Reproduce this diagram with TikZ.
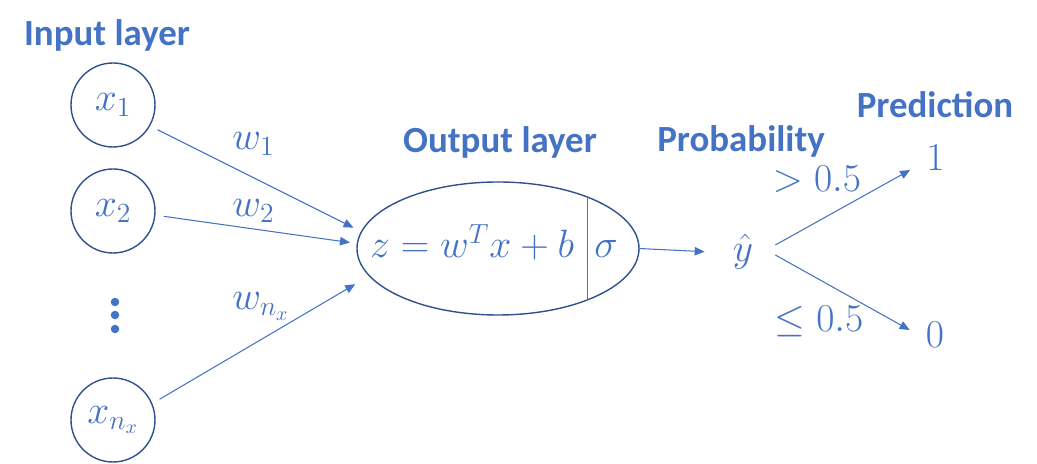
\RequirePackage{fix-cm}
\documentclass[tikz,border=0pt]{standalone}
\usepackage{fontspec}
\setsansfont{Carlito}
\usetikzlibrary{arrows.meta,shapes.geometric}
\definecolor{accent}{HTML}{4472C4}
\definecolor{edgeblue}{HTML}{2F528F}

\begin{document}
\begin{tikzpicture}[
    layer/.style={accent, font=\sffamily\bfseries\fontsize{21}{25}\selectfont, anchor=base},
    unit/.style={circle, draw=edgeblue, line width=0.8pt, minimum size=1.68cm, inner sep=0pt, outer sep=0.18cm, text=accent, font=\fontsize{22.5}{27}\selectfont},
    mathtxt/.style={accent, font=\fontsize{22.5}{27}\selectfont},
    weight/.style={mathtxt, anchor=base west, inner sep=0pt},
    link/.style={accent, line width=0.6pt, -{Triangle[length=0.2cm,width=0.17cm]}}
]
\useasboundingbox (0,0) rectangle (20.74,-9.28);

% input layer
\node [layer] (inlab) at (2.14,-0.91) {Input layer};
\node [unit] (x1) at (2.26,-2.10) {$x_1$};
\node [unit] (x2) at (2.26,-4.22) {$x_2$};
\node [unit] (xn) at (2.26,-8.40) {$x_{n_x}$};
\foreach \y in {-6.04,-6.30,-6.58}
    \fill [accent] (2.30,\y) circle (0.085);

% output layer
\node [layer] (outlab) at (10.00,-3.06) {Output layer};
\node [ellipse, draw=edgeblue, line width=0.8pt, minimum width=5.64cm, minimum height=2.66cm, inner sep=0pt, outer sep=0pt] (out) at (9.96,-4.97) {};
\draw [accent, line width=0.6pt] (out.30) -- (out.-30);
\node [mathtxt, anchor=base] (lin) at (9.44,-5.16) {$z = w^T x + b$};
\node [mathtxt, anchor=base] (sig) at (12.12,-5.16) {$\sigma$};

% weights
\node [weight] (w1) at (4.64,-3.00) {$w_1$};
\node [weight] (w2) at (4.64,-4.34) {$w_2$};
\node [weight] (wn) at (4.64,-6.20) {$w_{n_x}$};

\draw [link, shorten >=0.18cm] (x1.-29) -- (out.173);
\draw [link, shorten >=0.15cm] (x2.-6) -- (out.178);
\draw [link, shorten >=0.33cm] (xn.24) -- (out.192);

% probability and prediction
\node [layer] (problab) at (14.82,-3.04) {Probability};
\node [mathtxt, minimum width=1.28cm, inner sep=0pt] (yhat) at (14.86,-5.04) {$\hat{y}$};
\node [layer] (predlab) at (18.70,-2.36) {Prediction};
\node [mathtxt, minimum width=1.0cm, inner sep=0pt] (one) at (18.71,-3.15) {$1$};
\node [mathtxt, minimum width=1.0cm, inner sep=0pt] (zero) at (18.70,-6.70) {$0$};
\node [mathtxt] (gt) at (16.34,-3.58) {$>0.5$};
\node [mathtxt] (le) at (16.38,-6.42) {$\leq 0.5$};

\draw [link, shorten >=0.12cm] (out.east) -- (yhat.west);
\draw [link] ([yshift=0.14cm]yhat.east) -- ([yshift=-0.25cm]one.west);
\draw [link] ([yshift=-0.06cm]yhat.east) -- ([yshift=0.1cm]zero.west);
\end{tikzpicture}
\end{document}
